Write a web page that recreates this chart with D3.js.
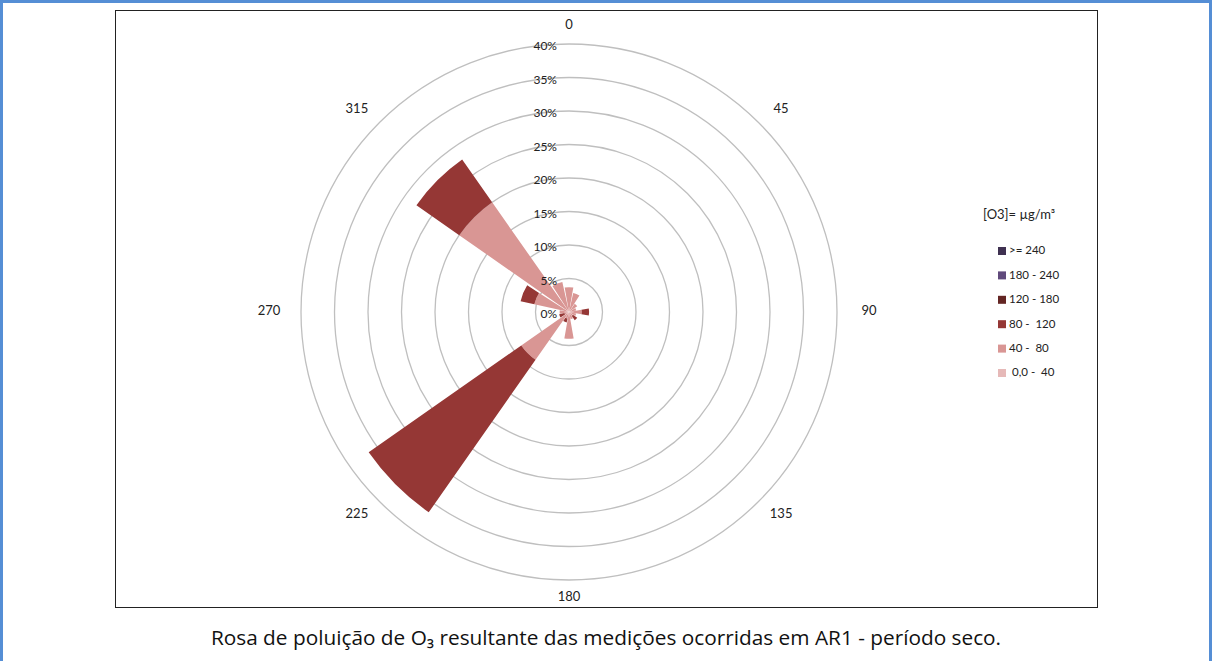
<!DOCTYPE html>
<html><head><meta charset="utf-8">
<script src="https://cdn.jsdelivr.net/npm/d3@7"></script>
<style>
html,body{margin:0;padding:0;background:#fff;}
svg{display:block;font-family:Lato,"Open Sans",sans-serif;}
</style></head>
<body>
<svg id="c" width="1212" height="661"></svg>
<script>
// ---- data ----
const directions = [0,22.5,45,67.5,90,112.5,135,157.5,180,202.5,225,247.5,270,292.5,315,337.5];
const dirLabels = ["0","45","90","135","180","225","270","315"];
const dirLabelAngles = [0,45,90,135,180,225,270,315];
const classNames = ["0,0 -  40","40 -  80","80 -  120","120 - 180","180 - 240",">= 240"];
const s0_40    = [0.2,0.2,0.1,0.1,0.2,0.1,0.1,0.1,0.3,0.2,0.3,0.1,0.2,0.3,0.3,0.2];
const s40_80   = [3.5,2.7,1.4,1.0,1.7,1.0,0.6,1.0,3.7,0.8,8.4,0.6,1.2,5.0,19.7,4.4];
const s80_120  = [0,0,0,0,1.1,0,0.8,0,0,0.6,27.8,0.8,0,2.1,7.8,0];
const s120_180 = [0,0,0,0,0,0,0,0,0,0,0,0,0,0,0,0];
const s180_240 = [0,0,0,0,0,0,0,0,0,0,0,0,0,0,0,0];
const s240     = [0,0,0,0,0,0,0,0,0,0,0,0,0,0,0,0];
const ringTicks = [0,5,10,15,20,25,30,35,40];
const colors = ["#E6B9B8","#D99694","#953735","#632523","#604A7B","#3F3151"];
const legendTitle = "[O3]= µg/m³";
const caption = "Rosa de poluição de O₃ resultante das medições ocorridas em AR1 - período seco.";

// ---- build ----
const series = [s0_40,s40_80,s80_120,s120_180,s180_240,s240];
const keys = ["a","b","c","d","e","f"];
const table = directions.map((d,i)=>{const o={dir:d}; keys.forEach((k,j)=>o[k]=series[j][i]); return o;});
const stacked = d3.stack().keys(keys)(table);

const svg = d3.select("#c");
const cx = 569, cy = 312;
const r = d3.scaleLinear().domain([0,40]).range([0,268]);
const ang = d3.scaleLinear().domain([0,360]).range([0,2*Math.PI]);
const halfW = 10;

// page blue border
svg.append("rect").attr("x",0).attr("y",0).attr("width",1212).attr("height",3).attr("fill","#558ED5");
svg.append("rect").attr("x",0).attr("y",0).attr("width",3).attr("height",661).attr("fill","#558ED5");
svg.append("rect").attr("x",1209).attr("y",0).attr("width",3).attr("height",661).attr("fill","#558ED5");

// chart frame
svg.append("rect").attr("x",115.5).attr("y",10.5).attr("width",982).attr("height",597)
  .attr("fill","#fff").attr("stroke","#222").attr("stroke-width",1);

const g = svg.append("g").attr("transform",`translate(${cx},${cy})`);

// rings
g.selectAll("circle.ring").data(ringTicks.filter(t=>t>0)).join("circle")
  .attr("r",d=>r(d)).attr("fill","none").attr("stroke","#BFBFBF").attr("stroke-width",1.3);

// wedges
const arc = d3.arc();
stacked.forEach((layer,li)=>{
  g.append("g").selectAll("path").data(layer.filter(d=>d[1]-d[0]>0)).join("path")
    .attr("d",d=>arc({innerRadius:r(d[0]),outerRadius:r(d[1]),
        startAngle:ang(d.data.dir-halfW),endAngle:ang(d.data.dir+halfW)}))
    .attr("fill",colors[li]);
});

// ring labels
g.selectAll("text.rl").data(ringTicks).join("text")
  .attr("x",-12).attr("y",d=>-r(d)+3)
  .attr("text-anchor","end").attr("dominant-baseline","middle")
  .attr("font-size",12).attr("fill","#222")
  .text(d=>d+"%");

// direction labels
const rx = 300, ry = 286;
g.selectAll("text.dl").data(dirLabelAngles).join("text")
  .attr("x",d=>rx*Math.sin(ang(d)))
  .attr("y",d=>-ry*Math.cos(ang(d)))
  .attr("text-anchor","middle").attr("dominant-baseline","middle")
  .attr("font-size",13).attr("fill","#222")
  .text((d,i)=>dirLabels[i]);

// legend
const lg = svg.append("g");
lg.append("text").attr("x",983).attr("y",216).attr("dominant-baseline","middle")
  .attr("font-size",13).attr("fill","#222").text(legendTitle);
const order = [5,4,3,2,1,0];
const ly = d3.scaleLinear().domain([0,5]).range([251,373]);
order.forEach((si,i)=>{
  lg.append("rect").attr("x",998).attr("y",ly(i)-4).attr("width",8).attr("height",8).attr("fill",colors[si]);
  lg.append("text").attr("x",si===0?1012:1009).attr("y",ly(i)+0.5).attr("dominant-baseline","middle")
    .attr("font-size",11.5).attr("fill","#222").style("white-space","pre").text(classNames[si]);
});

// caption
svg.append("text").attr("x",606).attr("y",639).attr("text-anchor","middle").attr("dominant-baseline","middle")
  .attr("font-family","'Open Sans',sans-serif")
  .attr("font-size",20.8).attr("fill","#111").text(caption);
</script>
</body></html>
